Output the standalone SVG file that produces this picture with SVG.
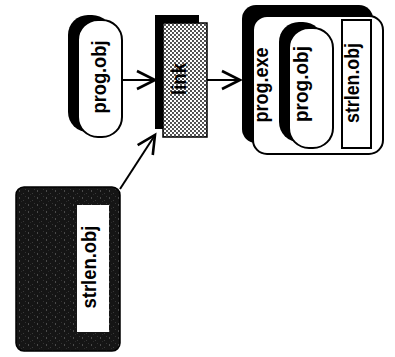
<svg xmlns="http://www.w3.org/2000/svg" width="395" height="357" viewBox="0 0 395 357">
  <style>
    .lbl { font-family: "Liberation Sans", Arial, sans-serif; font-weight: bold; font-size: 20px; fill: #000; text-anchor: middle; }
    .shadow { fill: #000; stroke: none; }
    .face { fill: #fff; stroke: #000; stroke-width: 2; }
    .conn { stroke: #000; stroke-width: 2; fill: none; }
  </style>
  <defs>
    <marker id="arrow" markerUnits="userSpaceOnUse" markerWidth="24" markerHeight="24" viewBox="-20 -12 22 24" refX="0" refY="0" orient="auto">
      <path d="M-18,-9 L0,0 L-18,9" fill="none" stroke="#000" stroke-width="2.6" stroke-linejoin="miter"/>
    </marker>
    <pattern id="dots" width="4" height="4" patternUnits="userSpaceOnUse">
      <rect width="4" height="4" fill="#fff"/>
      <circle cx="1" cy="1" r="0.9" fill="#000"/>
      <circle cx="3" cy="3" r="0.9" fill="#000"/>
    </pattern>
    <pattern id="grain" width="9" height="7" patternUnits="userSpaceOnUse">
      <rect width="9" height="7" fill="#151515"/>
      <rect x="1" y="1" width="1" height="2" fill="#4a4a4a"/>
      <rect x="5" y="4" width="1" height="1" fill="#3a3a3a"/>
      <rect x="7" y="0" width="1" height="1" fill="#333"/>
      <rect x="3" y="5" width="1" height="1" fill="#2a2a2a"/>
    </pattern>
  </defs>

  <g id="connectors">
    <line class="conn" x1="122" y1="80" x2="155" y2="80" marker-end="url(#arrow)"/>
    <line class="conn" x1="207" y1="80" x2="240" y2="80" marker-end="url(#arrow)"/>
    <line class="conn" x1="120" y1="189" x2="155" y2="135" marker-end="url(#arrow)"/>
  </g>

  <g id="prog-obj">
    <rect class="shadow" x="68" y="15" width="44" height="117" rx="20"/>
    <rect class="face" x="78" y="20" width="44" height="117" rx="20"/>
    <text class="lbl" transform="translate(105.5,77) rotate(-90)" textLength="73" lengthAdjust="spacingAndGlyphs">prog.obj</text>
  </g>

  <g id="link">
    <rect class="shadow" x="155" y="15" width="44" height="114"/>
    <rect x="163" y="23" width="44" height="114" fill="url(#dots)" stroke="#000" stroke-width="1.5"/>
    <text class="lbl" transform="translate(186,79) rotate(-90)" textLength="32" lengthAdjust="spacingAndGlyphs">link</text>
  </g>

  <g id="prog-exe">
    <rect class="shadow" x="242" y="5" width="131" height="138" rx="14"/>
    <rect class="face" x="253" y="16" width="130" height="138" rx="14"/>
    <text class="lbl" transform="translate(268,85) rotate(-90)" textLength="75" lengthAdjust="spacingAndGlyphs">prog.exe</text>
    <g id="prog-exe-prog-obj">
      <rect class="shadow" x="279" y="22" width="44" height="120" rx="20"/>
      <rect class="face" x="289" y="28" width="44" height="120" rx="20"/>
      <text class="lbl" transform="translate(308,84) rotate(-90)" textLength="76" lengthAdjust="spacingAndGlyphs">prog.obj</text>
    </g>
    <g id="prog-exe-strlen-obj">
      <rect class="face" x="342" y="20" width="29" height="128"/>
      <text class="lbl" transform="translate(359,83) rotate(-90)" textLength="80" lengthAdjust="spacingAndGlyphs">strlen.obj</text>
    </g>
  </g>

  <g id="strlen-obj">
    <rect x="16" y="187" width="104" height="164" rx="8" fill="url(#grain)" stroke="#000" stroke-width="1.5"/>
    <rect x="77" y="205" width="32" height="127" fill="#fff"/>
    <text class="lbl" transform="translate(96,267) rotate(-90)" textLength="83" lengthAdjust="spacingAndGlyphs">strlen.obj</text>
  </g>
</svg>
